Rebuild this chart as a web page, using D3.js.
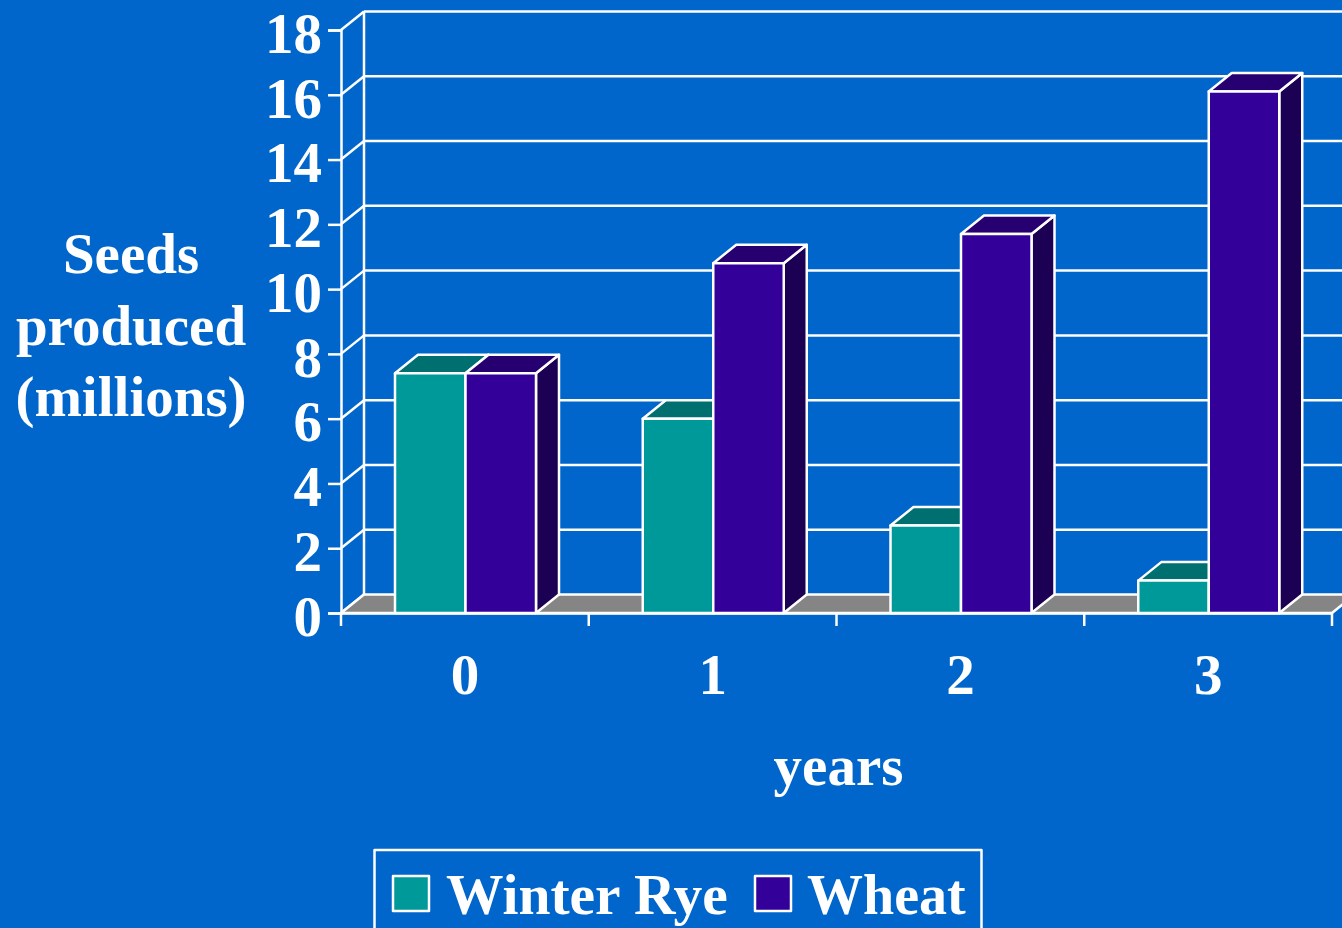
<!DOCTYPE html>
<html><head><meta charset="utf-8">
<script src="https://cdn.jsdelivr.net/npm/d3@7"></script>
<style>
html,body{margin:0;padding:0;background:#0066cc;overflow:hidden}
svg{display:block}
text{font-family:"Liberation Serif",serif;font-weight:bold;fill:#fff}
</style></head><body>
<script>
const categories = ["0","1","2","3"];
const seriesNames = ["Winter Rye","Wheat"];
const winterRye = [7.4,6.0,2.7,1.0];
const wheat = [7.4,10.8,11.7,16.1];
const yTicks = [0,2,4,6,8,10,12,14,16,18];
const yTitle = ["Seeds","produced","(millions)"];
const xTitle = "years";
const frontColors = ["#009999","#330099"];
const topColors = ["#006f6f","#260070"];
const sideColors = ["#004f4f","#1c0053"];

const W=1342,H=928, dx=23, dy=-18.5, fs=57;
const svg=d3.select("body").append("svg").attr("width",W).attr("height",H);
svg.append("rect").attr("width",W).attr("height",H).attr("fill","#0066cc");

const y=d3.scaleLinear().domain([0,18]).range([613,30]);
const x=d3.scaleBand().domain(categories).range([341,1332]);
const x1=d3.scaleBand().domain(seriesNames).range([54,195]);
const stroke={stroke:"#fff","stroke-width":2.5,"stroke-linejoin":"round"};
const style=(s,o=stroke)=>{Object.entries(o).forEach(([k,v])=>s.attr(k,v));return s;};

// back wall gridlines
const grid=svg.append("g");
style(grid.selectAll("line.g").data(yTicks.slice(1)).join("line").attr("class","g")
  .attr("x1",x.range()[0]+dx).attr("x2",W+5)
  .attr("y1",d=>y(d)+dy).attr("y2",d=>y(d)+dy));
style(grid.append("line").attr("x1",x.range()[0]+dx).attr("x2",x.range()[0]+dx)
  .attr("y1",y(0)+dy).attr("y2",y(18)+dy));
// side wall diagonals
style(grid.selectAll("line.d").data(yTicks).join("line").attr("class","d")
  .attr("x1",x.range()[0]).attr("x2",x.range()[0]+dx)
  .attr("y1",d=>y(d)).attr("y2",d=>y(d)+dy));
// floor
const [xa,xb]=x.range();
style(svg.append("path")
  .attr("d",`M${xa},${y(0)}L${xa+dx},${y(0)+dy}L${xb+dx},${y(0)+dy}L${xb},${y(0)}Z`)
  .attr("fill","#858585"));

// bars
const rows=categories.map((c,i)=>({c,vals:[winterRye[i],wheat[i]]}));
rows.forEach(r=>{
  r.vals.forEach((v,k)=>{
    const name=seriesNames[k];
    const l=x(r.c)+x1(name), w=x1.bandwidth(), t=y(v), b=y(0);
    const g=svg.append("g");
    style(g.append("path").attr("d",`M${l+w},${t}L${l+w+dx},${t+dy}L${l+w+dx},${b+dy}L${l+w},${b}Z`).attr("fill",sideColors[k]));
    style(g.append("path").attr("d",`M${l},${t}L${l+dx},${t+dy}L${l+w+dx},${t+dy}L${l+w},${t}Z`).attr("fill",topColors[k]));
    style(g.append("rect").attr("x",l).attr("y",t).attr("width",w).attr("height",b-t).attr("fill",frontColors[k]));
  });
});

// axes
const yAxis=svg.append("g").attr("transform",`translate(${xa},0)`)
  .call(d3.axisLeft(y).tickValues(yTicks).tickSize(13).tickPadding(6));
const xAxis=svg.append("g").attr("transform",`translate(0,${y(0)})`)
  .call(d3.axisBottom(x).tickSize(0).tickPadding(0));
xAxis.selectAll(".tick line").remove();
style(xAxis.selectAll("line.t").data([...categories.map(c=>x(c)),xb]).join("line").attr("class","t")
  .attr("x1",d=>d).attr("x2",d=>d).attr("y1",0).attr("y2",13));
[yAxis,xAxis].forEach(a=>{
  a.attr("font-family",null).attr("font-size",null);
  a.select(".domain").attr("stroke","#fff").attr("stroke-width",2.5);
  a.selectAll(".tick line").attr("stroke","#fff").attr("stroke-width",2.5);
  a.selectAll("text").style("font-size",fs+"px").style("fill","#fff");
});
yAxis.selectAll("text").attr("dy","0.39em");
xAxis.selectAll("text").attr("y",81).attr("dy",0);

// titles
svg.append("g").selectAll("text").data(yTitle).join("text")
  .attr("x",131).attr("y",(d,i)=>273+i*71.5).attr("text-anchor","middle")
  .style("font-size","57px").text(d=>d);
svg.append("text").attr("x",838.5).attr("y",785).attr("text-anchor","middle")
  .style("font-size","57px").text(xTitle);

// legend
style(svg.append("rect").attr("x",374.5).attr("y",850).attr("width",607).attr("height",100).attr("fill","none"));
const lx=[393,755], tx=[446,807], legendSizes=[57.5,56];
seriesNames.forEach((n,k)=>{
  style(svg.append("rect").attr("x",lx[k]).attr("y",876).attr("width",36).attr("height",35).attr("fill",frontColors[k]));
  svg.append("text").attr("x",tx[k]).attr("y",914).style("font-size",legendSizes[k]+"px").text(n);
});
</script>
</body></html>
